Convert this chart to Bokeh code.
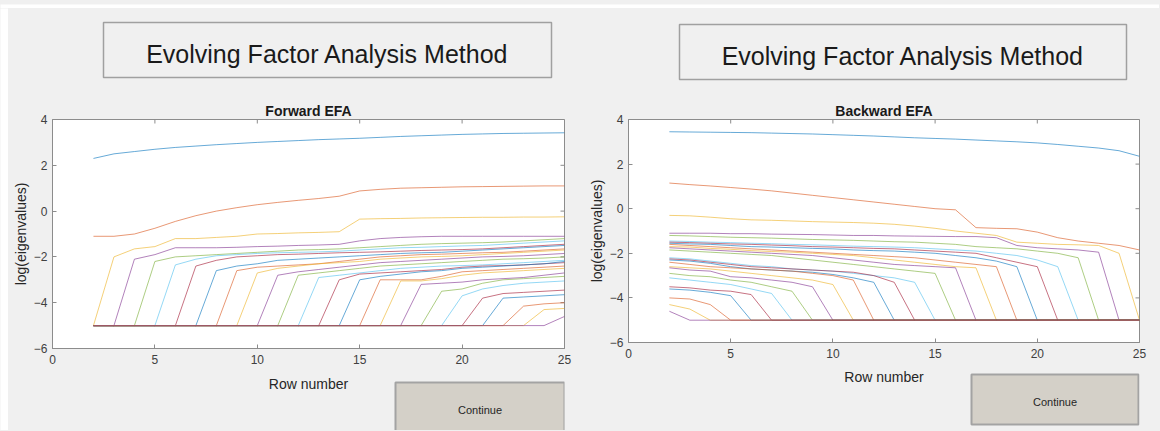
from bokeh.plotting import figure
from bokeh.models import Range1d, FixedTicker
from bokeh.layouts import row, column
from bokeh.core.properties import value
from bokeh.embed import file_html
from bokeh.resources import INLINE

# ---------------- data ----------------
ROWS = list(range(2, 26))          # row number 2 .. 25
FLOOR = -5.0                        # log value used where no eigenvalue exists
X_TICKS = [0, 5, 10, 15, 20, 25]
Y_TICKS = [-6, -4, -2, 0, 2, 4]
PANEL_TITLE = "Evolving Factor Analysis Method"
BUTTON_TEXT = "Continue"
X_LABEL = "Row number"
Y_LABEL = "log(eigenvalues)"

# Forward EFA: eigenvalue k appears at row k (values listed from first appearance)
FWD_1 = [2.3, 2.5, 2.6, 2.7, 2.78, 2.84, 2.9, 2.95, 3.0, 3.04, 3.08, 3.12, 3.15, 3.18, 3.22, 3.26, 3.29, 3.32, 3.35, 3.37, 3.39, 3.4, 3.41, 3.42]
FWD_2 = [-1.1, -1.1, -1.0, -0.75, -0.45, -0.2, 0.0, 0.15, 0.28, 0.38, 0.47, 0.55, 0.65, 0.88, 0.95, 1.0, 1.02, 1.04, 1.06, 1.07, 1.08, 1.09, 1.1, 1.1]
FWD_3 = [-2.0, -1.65, -1.55, -1.2, -1.2, -1.15, -1.1, -1.0, -0.98, -0.95, -0.93, -0.9, -0.35, -0.33, -0.32, -0.3, -0.29, -0.28, -0.27, -0.27, -0.26, -0.26, -0.25]
FWD_4 = [-2.1, -1.9, -1.6, -1.6, -1.6, -1.58, -1.55, -1.53, -1.5, -1.48, -1.45, -1.3, -1.2, -1.15, -1.12, -1.1, -1.1, -1.1, -1.1, -1.1, -1.1, -1.1]
FWD_5 = [-2.2, -2.0, -1.95, -1.9, -1.85, -1.8, -1.75, -1.7, -1.68, -1.65, -1.6, -1.55, -1.5, -1.45, -1.42, -1.4, -1.38, -1.35, -1.3, -1.25, -1.2]
FWD_6 = [-2.35, -2.1, -1.95, -1.9, -1.85, -1.82, -1.8, -1.78, -1.75, -1.7, -1.65, -1.6, -1.58, -1.55, -1.52, -1.5, -1.45, -1.4, -1.35, -1.3]
FWD_7 = [-2.4, -2.15, -2.0, -1.95, -1.9, -1.88, -1.85, -1.82, -1.8, -1.78, -1.75, -1.72, -1.7, -1.68, -1.65, -1.6, -1.55, -1.5, -1.45]
FWD_8 = [-2.6, -2.4, -2.3, -2.15, -2.1, -2.05, -2.0, -1.95, -1.9, -1.85, -1.82, -1.8, -1.75, -1.7, -1.65, -1.6, -1.55, -1.5]
FWD_9 = [-2.6, -2.45, -2.4, -2.35, -2.3, -2.2, -2.1, -2.0, -1.95, -1.9, -1.88, -1.85, -1.82, -1.8, -1.75, -1.7, -1.65]
FWD_10 = [-2.7, -2.5, -2.4, -2.3, -2.25, -2.2, -2.1, -2.05, -2.0, -1.98, -1.95, -1.9, -1.85, -1.8, -1.75, -1.7]
FWD_11 = [-2.8, -2.65, -2.55, -2.45, -2.35, -2.25, -2.2, -2.15, -2.1, -2.05, -2.0, -1.98, -1.95, -1.9, -1.85]
FWD_12 = [-2.8, -2.7, -2.6, -2.5, -2.4, -2.35, -2.3, -2.25, -2.2, -2.15, -2.1, -2.08, -2.05, -2.0]
FWD_13 = [-2.9, -2.8, -2.7, -2.6, -2.5, -2.45, -2.4, -2.38, -2.35, -2.3, -2.25, -2.2, -2.15]
FWD_14 = [-3.0, -2.75, -2.7, -2.65, -2.6, -2.55, -2.45, -2.4, -2.38, -2.35, -2.3, -2.25]
FWD_15 = [-3.0, -2.85, -2.75, -2.65, -2.6, -2.5, -2.45, -2.4, -2.35, -2.3, -2.2]
FWD_16 = [-3.0, -3.0, -3.0, -2.85, -2.65, -2.6, -2.55, -2.5, -2.45, -2.4]
FWD_17 = [-3.05, -3.05, -2.95, -2.8, -2.7, -2.65, -2.6, -2.55, -2.5]
FWD_18 = [-3.2, -3.15, -3.1, -3.0, -2.95, -2.9, -2.8, -2.7]
FWD_19 = [-3.5, -3.4, -3.15, -3.0, -2.95, -2.9, -2.85]
FWD_20 = [-3.7, -3.4, -3.25, -3.15, -3.1, -3.05]
FWD_21 = [-3.8, -3.6, -3.55, -3.5, -3.45]
FWD_22 = [-3.8, -3.75, -3.7, -3.65]
FWD_23 = [-4.15, -4.05, -4.0]
FWD_24 = [-4.3, -4.25]
FWD_25 = [-4.6]

# Backward EFA: eigenvalue k is present from row 2 until it vanishes (values listed up to vanishing)
BWD_1 = [3.45, 3.44, 3.43, 3.42, 3.41, 3.39, 3.37, 3.35, 3.32, 3.29, 3.26, 3.22, 3.18, 3.15, 3.12, 3.08, 3.04, 3.0, 2.95, 2.88, 2.8, 2.72, 2.6, 2.35]
BWD_2 = [1.15, 1.08, 1.02, 0.95, 0.88, 0.8, 0.7, 0.6, 0.5, 0.4, 0.3, 0.2, 0.1, 0.0, -0.05, -0.85, -0.88, -0.9, -1.05, -1.3, -1.45, -1.55, -1.65, -1.85]
BWD_3 = [-0.3, -0.32, -0.38, -0.45, -0.5, -0.52, -0.55, -0.58, -0.6, -0.62, -0.65, -0.7, -0.78, -0.88, -1.0, -1.1, -1.2, -1.5, -1.55, -1.6, -1.62, -1.65, -2.0]
BWD_4 = [-1.1, -1.1, -1.1, -1.12, -1.12, -1.14, -1.15, -1.16, -1.18, -1.2, -1.2, -1.22, -1.23, -1.24, -1.25, -1.25, -1.3, -1.65, -1.75, -1.8, -1.85, -1.95]
BWD_5 = [-1.2, -1.22, -1.25, -1.28, -1.3, -1.32, -1.35, -1.38, -1.4, -1.42, -1.45, -1.48, -1.5, -1.55, -1.6, -1.7, -1.75, -1.8, -1.9, -2.0, -2.2]
BWD_6 = [-1.45, -1.47, -1.5, -1.52, -1.55, -1.57, -1.6, -1.62, -1.65, -1.68, -1.7, -1.72, -1.75, -1.8, -1.85, -1.9, -2.0, -2.1, -2.3, -2.6]
BWD_7 = [-1.5, -1.52, -1.55, -1.58, -1.6, -1.63, -1.66, -1.7, -1.72, -1.75, -1.78, -1.8, -1.85, -1.9, -1.95, -2.0, -2.2, -2.4, -2.6]
BWD_8 = [-1.55, -1.58, -1.6, -1.65, -1.7, -1.72, -1.75, -1.78, -1.8, -1.85, -1.88, -1.9, -1.95, -2.0, -2.1, -2.2, -2.35, -2.6]
BWD_9 = [-1.6, -1.65, -1.7, -1.75, -1.8, -1.85, -1.9, -1.95, -2.0, -2.05, -2.1, -2.15, -2.2, -2.3, -2.4, -2.5, -2.6]
BWD_10 = [-1.7, -1.72, -1.78, -1.82, -1.88, -1.92, -1.95, -2.0, -2.05, -2.1, -2.2, -2.3, -2.4, -2.5, -2.6, -2.65]
BWD_11 = [-1.75, -1.8, -1.85, -1.9, -1.95, -2.0, -2.05, -2.1, -2.2, -2.3, -2.4, -2.5, -2.55, -2.6, -2.65]
BWD_12 = [-1.85, -1.9, -1.95, -2.0, -2.05, -2.1, -2.2, -2.3, -2.4, -2.5, -2.6, -2.7, -2.8, -2.9]
BWD_13 = [-2.2, -2.25, -2.35, -2.45, -2.55, -2.6, -2.7, -2.75, -2.8, -2.9, -3.0, -3.1, -3.3]
BWD_14 = [-2.25, -2.3, -2.4, -2.5, -2.6, -2.65, -2.7, -2.75, -2.8, -2.85, -3.0, -3.3]
BWD_15 = [-2.3, -2.35, -2.45, -2.6, -2.7, -2.75, -2.8, -2.85, -2.95, -3.1, -3.3]
BWD_16 = [-2.4, -2.5, -2.6, -2.65, -2.7, -2.75, -2.8, -2.9, -3.0, -3.2]
BWD_17 = [-2.6, -2.65, -2.7, -2.8, -2.9, -3.0, -3.1, -3.2, -3.4]
BWD_18 = [-2.65, -2.75, -2.8, -3.05, -3.1, -3.2, -3.3, -3.5]
BWD_19 = [-2.9, -3.0, -3.05, -3.2, -3.3, -3.5, -3.7]
BWD_20 = [-3.1, -3.2, -3.3, -3.4, -3.6, -3.8]
BWD_21 = [-3.5, -3.55, -3.65, -3.7, -3.85]
BWD_22 = [-3.6, -3.65, -3.75, -3.9]
BWD_23 = [-4.0, -4.05, -4.3]
BWD_24 = [-4.3, -4.5]
BWD_25 = [-4.6]

FORWARD = [FWD_1, FWD_2, FWD_3, FWD_4, FWD_5, FWD_6, FWD_7, FWD_8, FWD_9, FWD_10,
           FWD_11, FWD_12, FWD_13, FWD_14, FWD_15, FWD_16, FWD_17, FWD_18, FWD_19,
           FWD_20, FWD_21, FWD_22, FWD_23, FWD_24, FWD_25]
BACKWARD = [BWD_1, BWD_2, BWD_3, BWD_4, BWD_5, BWD_6, BWD_7, BWD_8, BWD_9, BWD_10,
            BWD_11, BWD_12, BWD_13, BWD_14, BWD_15, BWD_16, BWD_17, BWD_18, BWD_19,
            BWD_20, BWD_21, BWD_22, BWD_23, BWD_24, BWD_25]

MATLAB_COLORS = ["#0072BD", "#D95319", "#EDB120", "#7E2F8E", "#77AC30", "#4DBEEE", "#A2142F"]

# ---------------- styling ----------------
BG = "#f0f0f0"
FONT = "Liberation Sans"
AX_GRAY = "#8c8c8c"
TICK_LEN = 4  # px


def strip(width, height, x_lo=None, x_hi=None, fill=BG):
    # pixel-coordinate canvas; in a column its frame is aligned with the plot frame,
    # so the x range is set to the frame's pixel span within the column
    lo = 0 if x_lo is None else x_lo
    hi = width if x_hi is None else x_hi
    s = figure(width=width, height=height, x_range=Range1d(lo, hi), y_range=Range1d(height, 0),
               x_axis_location=None, y_axis_location=None, toolbar_location=None,
               output_backend="svg", min_border=0, background_fill_color=fill,
               border_fill_color=fill, outline_line_color=None)
    s.grid.visible = False
    return s


def header(width, height, frame_x, box, center_y):
    s = strip(width, height, frame_x[0], frame_x[1])
    l, t, r, b = box
    s.quad(left=[l], right=[r], top=[t], bottom=[b], fill_color=BG,
           line_color="#a0a0a0", line_width=1.5)
    s.text(x=[(l + r) / 2], y=[center_y], text=[PANEL_TITLE], text_align="center",
           text_baseline="middle", text_font=value(FONT), text_font_size=value("25px"),
           text_color="#1a1a1a")
    return s


def footer(width, height, frame_x, label_xy, box, button_center_y):
    s = strip(width, height, frame_x[0], frame_x[1])
    s.text(x=[label_xy[0]], y=[label_xy[1]], text=[X_LABEL], text_align="center",
           text_baseline="middle", text_font=value(FONT), text_font_size=value("14px"),
           text_color="#262626")
    l, t, r, b = box
    s.quad(left=[l], right=[r], top=[t], bottom=[b], fill_color="#d4d0c8",
           line_color="#a3a3a3", line_width=2)
    s.text(x=[(l + r) / 2], y=[button_center_y], text=[BUTTON_TEXT], text_align="center",
           text_baseline="middle", text_font=value(FONT), text_font_size=value("11px"),
           text_color="#262626")
    return s


def plot_panel(title, series, pad_front, width, height, borders):
    bl, br, bt, bb = borders
    p = figure(width=width, height=height,
               x_range=Range1d(0, 25), y_range=Range1d(-6, 4),
               output_backend="svg", toolbar_location=None,
               min_border_left=bl, min_border_right=br,
               min_border_top=bt, min_border_bottom=bb,
               background_fill_color="white", border_fill_color=BG)
    p.outline_line_color = AX_GRAY
    p.outline_line_width = 1
    p.grid.visible = False

    p.title.text = title
    p.title.align = "center"
    p.title.text_font = FONT
    p.title.text_font_size = "14px"
    p.title.text_font_style = "bold"
    p.title.text_color = "#1a1a1a"
    p.title.standoff = 2

    for ax in (p.xaxis[0], p.yaxis[0]):
        ax.major_tick_in = TICK_LEN
        ax.major_tick_out = 0
        ax.minor_tick_line_color = None
        ax.axis_line_color = AX_GRAY
        ax.major_tick_line_color = AX_GRAY
        ax.major_label_text_font = FONT
        ax.major_label_text_font_size = "12px"
        ax.major_label_text_color = "#404040"
        ax.axis_label_text_font = FONT
        ax.axis_label_text_font_size = "14px"
        ax.axis_label_text_font_style = "normal"
        ax.axis_label_text_color = "#262626"
    p.xaxis[0].ticker = FixedTicker(ticks=X_TICKS)
    p.yaxis[0].ticker = FixedTicker(ticks=Y_TICKS)
    p.yaxis[0].axis_label = Y_LABEL
    p.xaxis[0].major_label_standoff = 6
    p.yaxis[0].major_label_standoff = 5
    p.yaxis[0].axis_label_standoff = 2

    # inward tick marks on the top and right edges (box style)
    fw = width - bl - br
    fh = height - bt - bb
    dy = 10.0 * TICK_LEN / fh
    dx = 25.0 * TICK_LEN / fw
    p.segment(x0=X_TICKS, x1=X_TICKS, y0=[4] * len(X_TICKS), y1=[4 - dy] * len(X_TICKS),
              line_color=AX_GRAY, line_width=1)
    p.segment(x0=[25] * len(Y_TICKS), x1=[25 - dx] * len(Y_TICKS), y0=Y_TICKS, y1=Y_TICKS,
              line_color=AX_GRAY, line_width=1)

    n = len(ROWS)
    for k, vals in enumerate(series):
        if pad_front:
            ys = [FLOOR] * (n - len(vals)) + vals
        else:
            ys = vals + [FLOOR] * (n - len(vals))
        p.line(ROWS, ys, line_color=MATLAB_COLORS[k % len(MATLAB_COLORS)],
               line_width=1, line_alpha=0.6)
    return p


# left side: page x 8..580 ; right side: page x 580..1159
LW, RW = 572, 579
L_BORD = (44, 16, 24, 26)
R_BORD = (48, 20, 24, 22)
L_FX = (L_BORD[0], LW - L_BORD[1])
R_FX = (R_BORD[0], RW - R_BORD[1])

hdr_l = header(LW, 87, L_FX, (95, 14, 543, 69), 45)
plt_l = plot_panel("Forward EFA", FORWARD, True, LW, 279, L_BORD)
ftr_l = footer(LW, 56, L_FX, (300, 9), (387, 8, 556, 70), 35)

hdr_r = header(RW, 87, R_FX, (99, 16, 546, 71), 47)
plt_r = plot_panel("Backward EFA", BACKWARD, False, RW, 269, R_BORD)
ftr_r = footer(RW, 66, R_FX, (303.5, 12), (391, 10, 558, 60), 37)

top_margin = strip(1159, 8, fill="white")
left_margin = strip(8, 422, fill="white")

left_col = column(hdr_l, plt_l, ftr_l, spacing=0)
right_col = column(hdr_r, plt_r, ftr_r, spacing=0)
layout = column(top_margin,
                row(left_margin, left_col, right_col, spacing=0),
                spacing=0)

html = file_html(layout, INLINE, title=PANEL_TITLE)
html = html.replace("</head>", "<style>html, body { background: #f0f0f0; }</style></head>", 1)
open("out.html", "w").write(html)
